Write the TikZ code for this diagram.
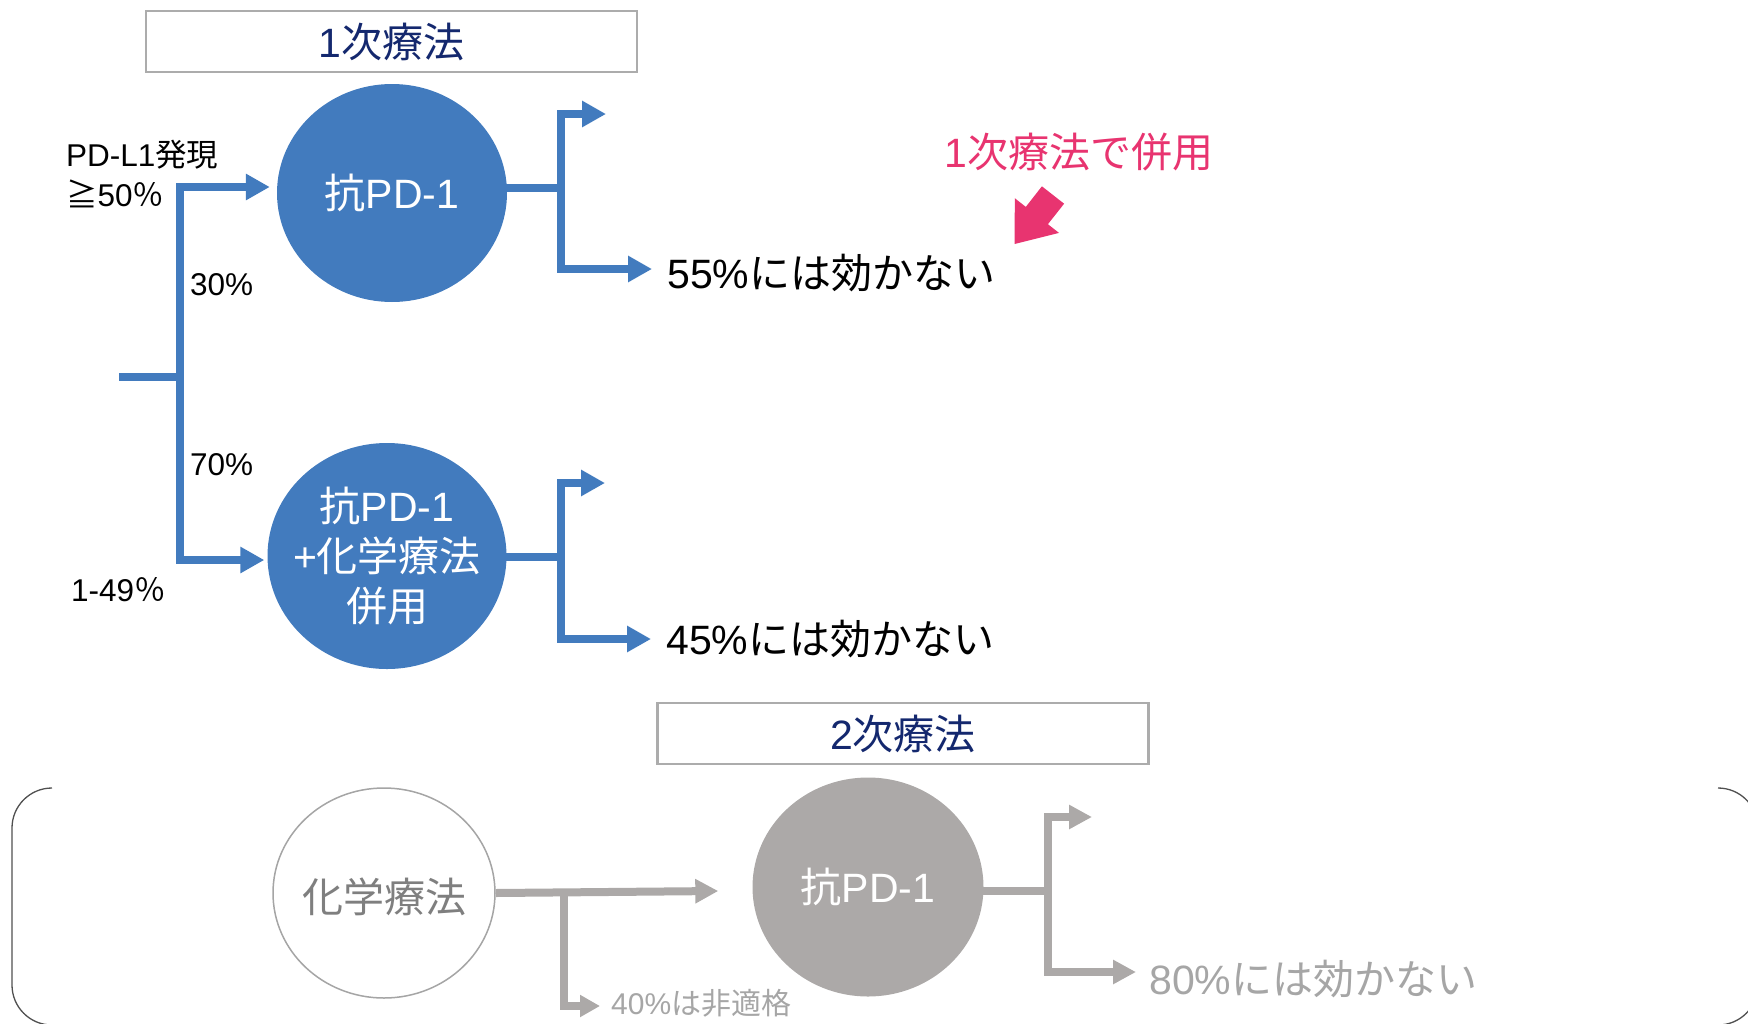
\documentclass[tikz,border=0pt]{standalone}
\usepackage{fontspec}
\setmainfont{Liberation Sans}
\newfontfamily\jpfont{Noto Sans CJK JP}
\newcommand\jx[1]{{\jpfont #1}}
\usetikzlibrary{shapes.geometric,arrows.meta,calc}
\definecolor{pblue}{RGB}{66,123,190}
\definecolor{pgray}{RGB}{172,169,168}
\definecolor{navy}{RGB}{20,40,110}
\definecolor{pinkc}{RGB}{232,52,112}
\definecolor{boxgray}{RGB}{172,172,172}
\definecolor{ltext}{RGB}{166,166,166}
\definecolor{ctext}{RGB}{127,127,127}
\definecolor{ocolor}{RGB}{165,165,165}
\definecolor{brkc}{RGB}{80,80,80}
\begin{document}
\begin{tikzpicture}[x=1pt,y=-1pt,
  bigf/.style={font=\fontsize{41}{50}\selectfont},
  smallf/.style={font=\fontsize{31.5}{38}\selectfont},
  titlebox/.style={draw=boxgray,line width=2.5pt,minimum width=491pt,minimum height=61pt,inner sep=0pt,bigf,text=navy},
  bcirc/.style={ellipse,fill=pblue,inner sep=0pt,text=white,bigf},
  gcirc/.style={ellipse,fill=pgray,inner sep=0pt,text=white,bigf},
  ocirc/.style={ellipse,draw=ocolor,fill=white,line width=1.5pt,inner sep=0pt,text=ctext,bigf},
  lbl/.style={anchor=west,inner sep=0pt,smallf},
  res/.style={anchor=west,inner sep=0pt,bigf},
  bline/.style={draw=pblue,line width=8pt},
  barr/.style={bline,-{Triangle[length=24pt,width=25pt]}},
  gline/.style={draw=pgray,line width=8pt},
  garr/.style={gline,-{Triangle[length=23pt,width=23pt]}},
  gsarr/.style={gline,-{Triangle[length=20pt,width=21pt]}},
  brk/.style={draw=brkc,line width=1.3pt,rounded corners=40pt}
]
\useasboundingbox (0,0) rectangle (1748,1023);
\clip (0,0) rectangle (1748,1023);

% title boxes
\node[titlebox] (box1) at (391.5,41.5) {1\jx{次療法}};
\node[titlebox] (box2) at (903,733.5) {2\jx{次療法}};

% circles
\node[bcirc,minimum width=230pt,minimum height=218pt] (A) at (392,193) {\jx{抗}PD-1};
\node[bcirc,minimum width=239pt,minimum height=226pt] (B) at (387,556) {};
\node[bigf,text=white,align=center,inner sep=0pt] (Bt) at (B.center) {\jx{抗}PD-1\\+\jx{化学療法}\\\jx{併用}};
\node[ocirc,minimum width=222pt,minimum height=210pt] (C) at (384,893) {};
\node[bigf,text=ctext,inner sep=0pt] (Ct) at ([yshift=-4pt]C.center) {\jx{化学療法}};
\node[gcirc,minimum width=231pt,minimum height=219pt] (D) at (868,887) {\jx{抗}PD-1};

% labels
\node[lbl] (l1) at (66,155) {PD-L1\jx{発現}};
\node[lbl] (l2) at (66,194) {\jx{≧}50\jx{％}};
\node[lbl] (l3) at (190,285) {30\%};
\node[lbl] (l4) at (190,465) {70\%};
\node[lbl] (l5) at (71,590) {1-49\jx{％}};

% results
\node[res] (r55) at (667,273) {55\%\jx{には効かない}};
\node[res] (r45) at (666,639) {45\%\jx{には効かない}};
\node[res,text=ltext] (r80) at (1149,979) {80\%\jx{には効かない}};
\node[lbl,text=ltext,font=\fontsize{30}{36}\selectfont] (r40) at (611,1003) {40\%\jx{は非適格}};
\node[res,text=pinkc] (note) at (944,152) {1\jx{次療法で併用}};

% first-line tree
\coordinate (s0) at (119,377);
\coordinate (j1) at (180,377);
\draw[bline] (s0) -- (j1);
\draw[barr] (j1) |- ([xshift=-7pt,yshift=6pt]A.west);
\draw[barr] (j1) |- ([xshift=-3pt,yshift=-4pt]B.west);

\coordinate (ja) at (561,188);
\coordinate (ta) at (606,114);
\draw[bline] ([xshift=-4pt,yshift=5pt]A.east) -- (ja);
\draw[barr] (ja) |- (ta);
\draw[barr] (ja) |- ([xshift=-15pt,yshift=4pt]r55.west);

\coordinate (jb) at (561,557);
\coordinate (tb) at (605,483);
\draw[bline] ([xshift=-4pt,yshift=-1pt]B.east) -- (jb);
\draw[barr] (jb) |- (tb);
\draw[barr] (jb) |- ([xshift=-15pt]r45.west);

% second-line tree
\draw[garr] (C.east) -- ([xshift=-34pt,yshift=-4pt]D.west);
\coordinate (jc) at (564,892);
\draw[gsarr] (jc) |- ([xshift=-11pt,yshift=-3pt]r40.west);

\coordinate (jd) at (1048,891);
\coordinate (td) at (1092,817);
\draw[gline] ([xshift=-2pt,yshift=-4pt]D.east) -- (jd);
\draw[garr] (jd) |- (td);
\draw[garr] (jd) |- ([xshift=-13pt,yshift=7pt]r80.west);

% pink pointer
\fill[pinkc] (1064.1,203.7) -- (1047.9,224.2) -- (1059.0,232.9) -- (1014.6,244.0) -- (1014.8,198.2) -- (1025.8,206.9) -- (1041.9,186.3) -- cycle;

% brackets
\draw[brk] (52,788) -- (12,788) -- (12,1025) -- (52,1025);
\draw[brk] (1718,788) -- (1758,788) -- (1758,1025) -- (1718,1025);
\end{tikzpicture}
\end{document}
